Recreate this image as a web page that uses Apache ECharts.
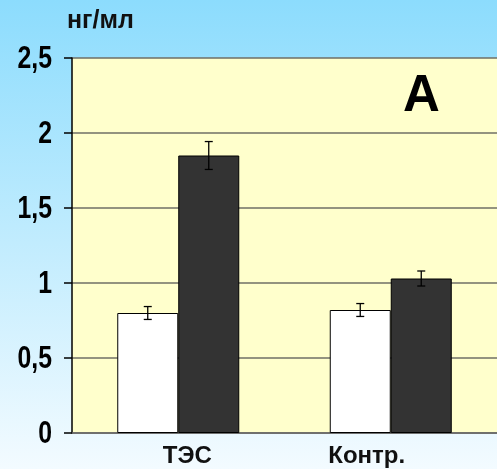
<!DOCTYPE html>
<html><head><meta charset="utf-8">
<script src="https://cdn.jsdelivr.net/npm/echarts@6/dist/echarts.min.js"></script>
<style>html,body{margin:0;padding:0;}#c{width:497px;height:469px;}</style>
</head><body><div id="c"></div>
<script>
const categories = ['ТЭС', 'Контр.'];
const whiteValues = [0.80, 0.82];
const whiteErrors = [0.043, 0.043];
const darkValues = [1.85, 1.03];
const darkErrors = [0.093, 0.05];
const yTicks = [0, 0.5, 1, 1.5, 2, 2.5];
const yTickLabels = ['0', '0,5', '1', '1,5', '2', '2,5'];
const unitLabel = 'нг/мл';
const panelLabel = 'А';

const chart = echarts.init(document.getElementById('c'));
const BW = 61;
const FONT = "'Liberation Sans', Arial, sans-serif";
function errSeries(vals, errs, offset) {
  return {
    type: 'custom',
    z: 10,
    data: vals.map((v, i) => [i, v, errs[i]]),
    renderItem: function (params, api) {
      const i = api.value(0), v = api.value(1), e = api.value(2);
      const hi = api.coord([i, v + e]);
      const lo = api.coord([i, v - e]);
      const x = hi[0] + offset;
      const cw = 4;
      const st = {stroke: '#000', lineWidth: 1.3};
      return {type: 'group', children: [
        {type: 'line', shape: {x1: x, y1: hi[1], x2: x, y2: lo[1]}, style: st},
        {type: 'line', shape: {x1: x - cw, y1: hi[1], x2: x + cw, y2: hi[1]}, style: st},
        {type: 'line', shape: {x1: x - cw, y1: lo[1], x2: x + cw, y2: lo[1]}, style: st}
      ]};
    }
  };
}
chart.setOption({
  animation: false,
  backgroundColor: new echarts.graphic.LinearGradient(0, 0, 0, 1, [
    {offset: 0, color: '#8cdcfd'}, {offset: 1, color: '#f3fbff'}
  ]),
  title: [
    {text: unitLabel, left: 62, top: 4, textStyle: {fontFamily: FONT, fontWeight: 'bold', fontSize: 25, color: '#111'}},
    {text: panelLabel, left: 398, top: 66, textStyle: {fontFamily: FONT, fontWeight: 'bold', fontSize: 51, color: '#000'}}
  ],
  grid: {left: 72, right: 0, top: 58, bottom: 36, show: true, backgroundColor: '#ffffcc', borderWidth: 0},
  xAxis: {
    type: 'category', data: categories,
    axisLine: {lineStyle: {color: '#666', width: 1.5}},
    axisTick: {show: false},
    axisLabel: {
      margin: 11,
      formatter: function (v, i) { return i === 0 ? '{a|' + v + '}' : '{b|' + v + '}'; },
      rich: {
        a: {fontFamily: FONT, fontWeight: 'bold', fontSize: 24, color: '#111', padding: [0, 0, 0, 18]},
        b: {fontFamily: FONT, fontWeight: 'bold', fontSize: 24, color: '#111', padding: [0, 48, 0, 0]}
      }
    }
  },
  yAxis: {
    type: 'value', min: 0, max: 2.5, interval: 0.5,
    axisLine: {show: true, lineStyle: {color: '#000', width: 1.5}},
    axisTick: {show: true, length: 8, lineStyle: {color: '#000', width: 1.5}},
    axisLabel: {show: false},
    splitLine: {show: true, lineStyle: {color: '#6f6f66', width: 1.5}}
  },
  series: [
    {type: 'bar', data: whiteValues, barWidth: BW, barGap: '0%',
     itemStyle: {color: '#ffffff', borderColor: '#000', borderWidth: 1}},
    {type: 'bar', data: darkValues, barWidth: BW, barGap: '0%',
     itemStyle: {color: '#333333', borderColor: '#000', borderWidth: 1}},
    errSeries(whiteValues, whiteErrors, -BW / 2),
    errSeries(darkValues, darkErrors, BW / 2)
  ]
});
// Condensed y-axis tick labels, positioned through the axis scale
const axisX = chart.convertToPixel({xAxisIndex: 0}, 0) - 0; // ensure chart laid out
const labelRight = 72 - 20;
chart.setOption({
  graphic: yTicks.map((v, k) => ({
    type: 'text',
    x: labelRight,
    y: chart.convertToPixel({yAxisIndex: 0}, v) + 1,
    scaleX: 0.8,
    style: {
      text: yTickLabels[k], align: 'right', verticalAlign: 'middle',
      font: 'bold 31px ' + FONT, fill: '#000'
    }
  }))
});
</script></body></html>
